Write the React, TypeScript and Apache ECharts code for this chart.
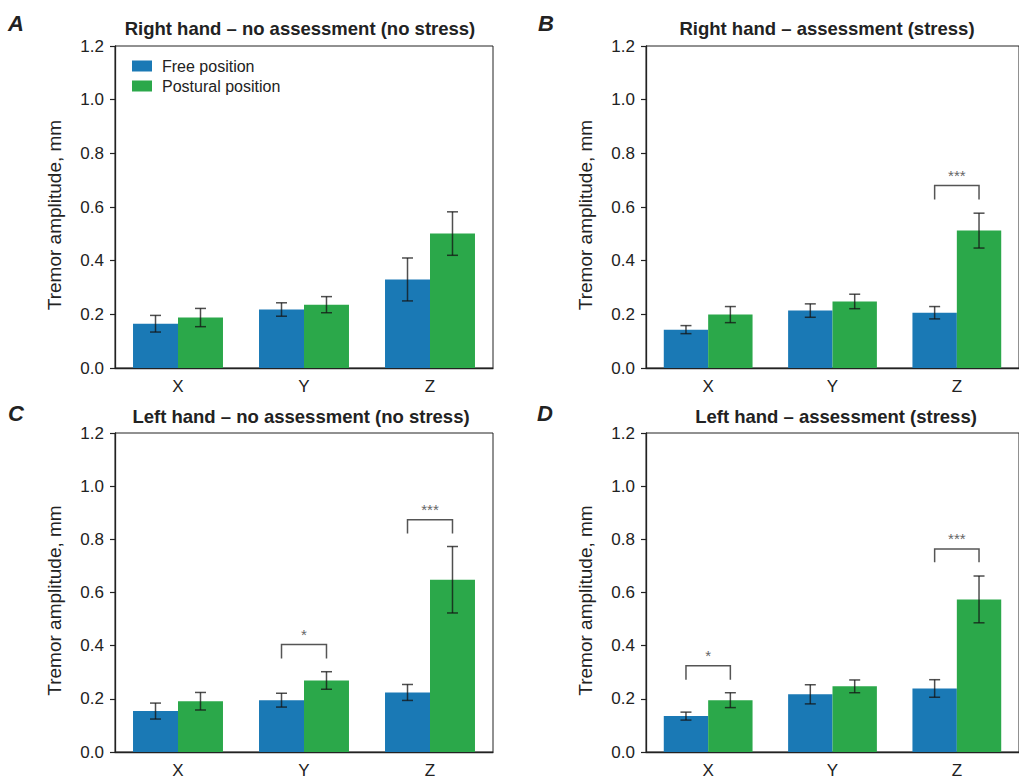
import React, { useEffect, useRef } from "react";
import * as echarts from "echarts";

const categories = ["X", "Y", "Z"];
const seriesNames = ["Free position", "Postural position"];
const yTicks = [0, 0.2, 0.4, 0.6, 0.8, 1.0, 1.2];

const titles = [
  "Right hand – no assessment (no stress)",
  "Right hand – assessment (stress)",
  "Left hand – no assessment (no stress)",
  "Left hand – assessment (stress)",
];
const letters = ["A", "B", "C", "D"];

// panel A
const aFree = [0.165, 0.218, 0.33];
const aFreeErr = [0.031, 0.025, 0.08];
const aPost = [0.188, 0.236, 0.501];
const aPostErr = [0.034, 0.03, 0.081];
// panel B
const bFree = [0.143, 0.214, 0.206];
const bFreeErr = [0.015, 0.025, 0.023];
const bPost = [0.199, 0.248, 0.512];
const bPostErr = [0.03, 0.027, 0.065];
// panel C
const cFree = [0.154, 0.195, 0.224];
const cFreeErr = [0.03, 0.026, 0.03];
const cPost = [0.191, 0.269, 0.648];
const cPostErr = [0.033, 0.033, 0.125];
// panel D
const dFree = [0.135, 0.217, 0.239];
const dFreeErr = [0.015, 0.036, 0.033];
const dPost = [0.195, 0.247, 0.574];
const dPostErr = [0.028, 0.024, 0.088];

// significance brackets: [category index, bracket top, leg bottom, label]
const bBrackets: [number, number, number, string][] = [[2, 0.68, 0.628, "***"]];
const cBrackets: [number, number, number, string][] = [
  [1, 0.404, 0.352, "*"],
  [2, 0.874, 0.822, "***"],
];
const dBrackets: [number, number, number, string][] = [
  [0, 0.324, 0.272, "*"],
  [2, 0.764, 0.714, "***"],
];

const panels = [
  { free: aFree, freeErr: aFreeErr, post: aPost, postErr: aPostErr, brackets: [] as [number, number, number, string][] },
  { free: bFree, freeErr: bFreeErr, post: bPost, postErr: bPostErr, brackets: bBrackets },
  { free: cFree, freeErr: cFreeErr, post: cPost, postErr: cPostErr, brackets: cBrackets },
  { free: dFree, freeErr: dFreeErr, post: dPost, postErr: dPostErr, brackets: dBrackets },
];

const BLUE = "#1a79b5";
const GREEN = "#2ba84a";
const FONT = "'Liberation Sans', Arial, Helvetica, sans-serif";
const TXT = "#222";
const BAR_FRAC = 0.357;

const gridPos = [
  { left: 115, top: 46 },
  { left: 646, top: 46 },
  { left: 115, top: 433 },
  { left: 646, top: 433 },
];
const titlePos = [
  { x: 300, y: 28 },
  { x: 827, y: 28 },
  { x: 301, y: 416 },
  { x: 836, y: 416 },
];
const letterPos = [
  { x: 8, y: 23 },
  { x: 538, y: 23 },
  { x: 8, y: 413 },
  { x: 537, y: 413 },
];

function errRender(sign: number) {
  return (params: any, api: any) => {
    const c = api.value(0);
    const lo = api.value(1);
    const hi = api.value(2);
    const band = api.size([1, 0])[0];
    const off = sign * band * BAR_FRAC * 0.5;
    const p1 = api.coord([c, lo]);
    const p2 = api.coord([c, hi]);
    const x = p1[0] + off;
    const cap = 5.5;
    const style = { stroke: "rgba(20,20,20,0.75)", lineWidth: 1.5 };
    return {
      type: "group",
      children: [
        { type: "line", shape: { x1: x, y1: p1[1], x2: x, y2: p2[1] }, style },
        { type: "line", shape: { x1: x - cap, y1: p1[1], x2: x + cap, y2: p1[1] }, style },
        { type: "line", shape: { x1: x - cap, y1: p2[1], x2: x + cap, y2: p2[1] }, style },
      ],
    };
  };
}

function bracketRender(labels: string[]) {
  return (params: any, api: any) => {
    const c = api.value(0);
    const top = api.value(1);
    const leg = api.value(2);
    const band = api.size([1, 0])[0];
    const off = band * BAR_FRAC * 0.5;
    const pt = api.coord([c, top]);
    const pl = api.coord([c, leg]);
    const x1 = pt[0] - off;
    const x2 = pt[0] + off;
    return {
      type: "group",
      children: [
        {
          type: "polyline",
          shape: { points: [[x1, pl[1]], [x1, pt[1]], [x2, pt[1]], [x2, pl[1]]] },
          style: { stroke: "#555", lineWidth: 1.5, fill: "none" },
        },
        {
          type: "text",
          x: pt[0],
          y: pt[1] - 3,
          style: {
            text: labels[params.dataIndex],
            fontSize: 15,
            fontFamily: FONT,
            fill: "#666",
            align: "center",
            verticalAlign: "bottom",
          },
        },
      ],
    };
  };
}

export default function App() {
  const ref = useRef<HTMLDivElement>(null);
  useEffect(() => {
    document.body.style.margin = "0";
    if (!ref.current) return;
    const chart = echarts.init(ref.current, null, { renderer: "svg" });

    const grid = gridPos.map((g) => ({
      left: g.left,
      top: g.top,
      width: 378,
      height: 322,
      show: true,
      borderColor: "#222",
      borderWidth: 1,
      backgroundColor: "transparent",
    }));

    const xAxis = gridPos.map((_, i) => ({
      type: "category",
      gridIndex: i,
      data: categories,
      axisLine: { lineStyle: { color: "#222", width: 1.3 } },
      axisTick: { alignWithLabel: true, length: 5, lineStyle: { color: "#222", width: 1.2 } },
      axisLabel: { fontSize: 17, color: TXT, fontFamily: FONT, margin: 10 },
    }));

    const yAxis = gridPos.map((_, i) => ({
      type: "value",
      gridIndex: i,
      min: yTicks[0],
      max: yTicks[yTicks.length - 1],
      interval: 0.2,
      name: "Tremor amplitude, mm",
      nameLocation: "middle",
      nameGap: 51,
      nameTextStyle: { fontSize: 19, color: TXT, fontFamily: FONT, padding: [0, 16, 0, 0] },
      axisLine: { show: true, lineStyle: { color: "#222", width: 1.3 } },
      axisTick: { show: true, length: 5, lineStyle: { color: "#222", width: 1.2 } },
      splitLine: { show: false },
      axisLabel: {
        fontSize: 17,
        color: TXT,
        fontFamily: FONT,
        margin: 11,
        formatter: (v: number) => v.toFixed(1),
      },
    }));

    const series: any[] = [];
    panels.forEach((p, i) => {
      series.push({
        type: "bar",
        name: seriesNames[0],
        xAxisIndex: i,
        yAxisIndex: i,
        data: p.free,
        barWidth: BAR_FRAC * 100 + "%",
        barGap: "0%",
        itemStyle: { color: BLUE },
      });
      series.push({
        type: "bar",
        name: seriesNames[1],
        xAxisIndex: i,
        yAxisIndex: i,
        data: p.post,
        barWidth: BAR_FRAC * 100 + "%",
        barGap: "0%",
        itemStyle: { color: GREEN },
      });
    });
    panels.forEach((p, i) => {
      series.push({
        type: "custom",
        xAxisIndex: i,
        yAxisIndex: i,
        renderItem: errRender(-1),
        encode: { x: 0, y: [1, 2] },
        data: p.free.map((v, k) => [k, v - p.freeErr[k], v + p.freeErr[k]]),
        z: 5,
      });
      series.push({
        type: "custom",
        xAxisIndex: i,
        yAxisIndex: i,
        renderItem: errRender(1),
        encode: { x: 0, y: [1, 2] },
        data: p.post.map((v, k) => [k, v - p.postErr[k], v + p.postErr[k]]),
        z: 5,
      });
      if (p.brackets.length) {
        series.push({
          type: "custom",
          xAxisIndex: i,
          yAxisIndex: i,
          renderItem: bracketRender(p.brackets.map((b) => b[3])),
          encode: { x: 0, y: [1, 2] },
          data: p.brackets.map((b) => [b[0], b[1], b[2]]),
          z: 5,
        });
      }
    });

    const graphic: any[] = [];
    titles.forEach((t, i) => {
      graphic.push({
        type: "text",
        x: titlePos[i].x,
        y: titlePos[i].y,
        style: {
          text: t,
          fontSize: 18.5,
          fontWeight: "bold",
          fontFamily: FONT,
          fill: TXT,
          align: "center",
          verticalAlign: "middle",
        },
      });
      graphic.push({
        type: "text",
        x: letterPos[i].x,
        y: letterPos[i].y,
        style: {
          text: letters[i],
          fontSize: 22,
          fontWeight: "bold",
          fontStyle: "italic",
          fontFamily: FONT,
          fill: TXT,
          align: "left",
          verticalAlign: "middle",
        },
      });
    });

    chart.setOption({
      animation: false,
      backgroundColor: "#fff",
      grid,
      xAxis,
      yAxis,
      series,
      graphic,
      legend: {
        data: seriesNames,
        orient: "vertical",
        left: 132,
        top: 58,
        padding: 0,
        itemWidth: 20,
        itemHeight: 11,
        itemGap: 4,
        icon: "rect",
        textStyle: { fontSize: 16, color: TXT, fontFamily: FONT, padding: [0, 0, 0, 5] },
      },
    });
    return () => chart.dispose();
  }, []);
  return <div ref={ref} style={{ width: 1019, height: 779 }} />;
}
